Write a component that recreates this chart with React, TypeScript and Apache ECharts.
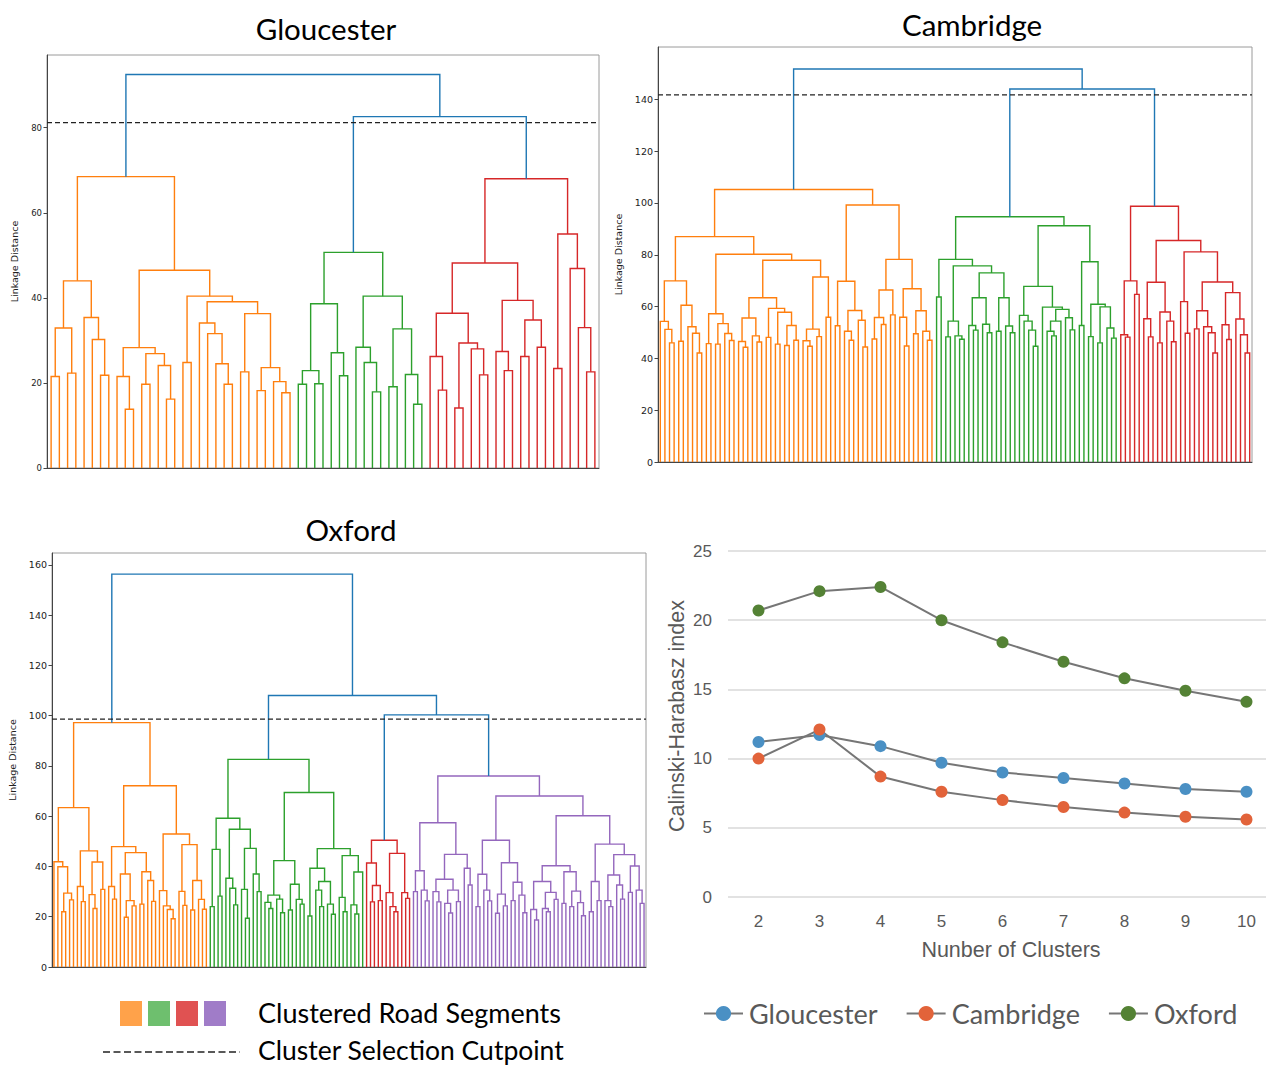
import React, { useEffect, useRef } from "react";
import * as echarts from "echarts";

type T = number | [number, T, T];

// ---------- Dendrogram data: [mergeHeight, left, right], 0 = leaf ----------
const gloucesterTree: T = [92.5,
  [68.5,
    [44.0, [32.9, [21.5, 0, 0], [22.3, 0, 0]], [35.4, 0, [30.2, 0, [21.8, 0, 0]]]],
    [46.5,
      [28.3, [21.5, 0, [13.8, 0, 0]], [26.9, [19.7, 0, 0], [24.1, 0, [16.2, 0, 0]]]],
      [40.4, [24.8, 0, 0],
        [39.1, [34.1, 0, [31.6, 0, [24.5, 0, [19.7, 0, 0]]]],
          [36.3, [22.6, 0, 0], [23.6, [18.2, 0, 0], [20.3, 0, [17.7, 0, 0]]]]]]]],
  [82.6,
    [50.7,
      [38.6, [22.9, [19.7, 0, 0], [19.8, 0, 0]], [27.1, 0, [21.7, 0, 0]]],
      [40.4, [28.4, 0, [24.8, 0, [17.9, 0, 0]]], [32.7, [19.1, 0, 0], [22.0, 0, [15.0, 0, 0]]]]],
    [68.0,
      [48.2,
        [36.4, [26.2, 0, [18.3, 0, 0]], [29.4, [14.1, 0, 0], [28.0, 0, [21.9, 0, 0]]]],
        [39.4, [27.4, 0, [22.9, 0, 0]], [34.8, [26.2, 0, 0], [28.4, 0, 0]]]],
      [55.0, [23.4, 0, 0], [46.9, 0, [33.0, 0, [22.6, 0, 0]]]]]]];
const gloucesterCut = 81.2;
const gloucesterTicks = [0, 20, 40, 60, 80];

const cambridgeTree: T = [151.7,
  [105.2,
    [87.0,
      [69.9, [54.3, 0, [51.2, 0, [46, 0, 0]]], [60.5, [46.6, 0, 0], [52.2, 0, [49.7, 0, [42.1, 0, 0]]]]],
      [80.2,
        [57.2, [45.7, 0, 0], [53.4, [45.5, 0, 0], [49.6, 0, [46.9, 0, 0]]]],
        [77.9,
          [63.4, [55.6, [46.5, 0, [44.3, 0, 0]], [48.7, 0, [46.3, 0, 0]]],
            [59.3, [48.1, 0, 0], [57.8, [45.5, 0, 0], [52.7, [45, 0, 0], [47, 0, 0]]]]],
          [71.4, [51.3, [46.8, 0, [44.7, 0, 0]], [48.4, 0, 0]], [55.9, 0, 0]]]]],
    [99.2,
      [69.8, [52.6, 0, 0], [58.5, [50.5, 0, [47, 0, 0]], [54.7, 0, [44.4, 0, 0]]]],
      [78.2, [66.4, [55.8, [47.5, 0, 0], [53.1, 0, 0]], [56.8, 0, 0]],
        [66.9, [55.9, 0, [44.8, 0, 0]], [58.4, [49.5, 0, 0], [50.5, 0, [47, 0, 0]]]]]]],
  [144.0,
    [94.7,
      [78.2, [63.7, 0, 0],
        [75.7, [54.4, [48.3, 0, 0], [48.7, 0, [47.4, 0, 0]]],
          [73, [63.4, [52.7, 0, [50.9, 0, 0]], [53.2, 0, [49.9, 0, 0]]],
            [63.4, [50.5, 0, 0], [52.5, 0, [49.9, 0, 0]]]]]],
      [91.2,
        [67.8, [56.6, 0, [54.4, 0, [50.9, 0, [44.7, 0, 0]]]],
          [59.8, 0, [58.9, [54.4, [50.5, 0, [48.7, 0, 0]], 0], [55.7, 0, [51, 0, 0]]]]],
        [77.3, [52.7, 0, 0], [60.9, [48.4, 0, 0], [59.9, [46, 0, 0], [51.7, 0, [47.8, 0, 0]]]]]]],
    [98.7,
      [69.9, [49.1, 0, [48.2, 0, 0]], [64.7, 0, 0]],
      [85.5,
        [69.4, [55.3, 0, [48.3, 0, 0]], [57.9, [46, 0, 0], [54.4, 0, [46.4, 0, 0]]]],
        [81.1, [61.9, 0, [49.7, 0, 0]],
          [69.5, [58.4, [51.4, 0, 0], [52.2, 0, [49.9, 0, [42.1, 0, 0]]]],
            [65.4, [53, 0, [47.3, 0, 0]], [55.2, 0, [49.1, 0, [42.1, 0, 0]]]]]]]]]];
const cambridgeCut = 141.7;
const cambridgeTicks = [0, 20, 40, 60, 80, 100, 120, 140];

const oxfordTree: T = [156.3,
  [97.2,
    [63.4, [41.9, 0, [39.9, 0, [29.4, [22, 0, 0], [26.7, 0, 0]]]],
      [46.2, [32, 0, [26, 0, 0]], [41.8, [28.8, 0, [23.3, 0, 0]], [30.9, 0, 0]]]],
    [72.1,
      [47.9, [32, 0, [27, 0, 0]],
        [45.5, [37, 0, [26.4, [19.8, 0, 0], [24.3, 0, 0]]], [37.9, [25, 0, 0], [34.4, 0, [26.1, 0, 0]]]]],
      [52.9, [30.4, 0, [24.3, 0, [22.9, 0, [19.2, 0, 0]]]],
        [48.7, [30.1, 0, [24.5, 0, 0]], [34.4, [22.7, 0, 0], [26.9, 0, [23, 0, 0]]]]]]],
  [108,
    [82.6,
      [59.2, [46.8, [24, 0, 0], [28.2, 0, 0]],
        [54.8, [35.3, 0, [31.3, 0, [24.7, 0, 0]]], [47.2, [30.9, 0, [19.4, 0, 0]], [37, 0, [30, 0, 0]]]]],
      [69.4,
        [42.3, [28.6, [25.7, 0, [23.3, 0, 0]], [27, 0, [21.6, 0, 0]]], [32.9, [22.7, 0, 0], [26.9, 0, [25, 0, 0]]]],
        [47.1, [39.3, [20.3, 0, 0], [34, [30.6, 0, [24, 0, 0]], [25, 0, [21, 0, 0]]]],
          [44.3, [27.7, 0, [22, 0, 0]], [37.8, [24.7, 0, [21.1, 0, 0]], 0]]]]],
    [100.3,
      [50.4, [41.4, 0, [32.4, [25.9, 0, 0], [26.4, 0, 0]]],
        [45.2, [29.6, 0, [24, 0, [22, 0, 0]]], [29.6, 0, [27.3, 0, 0]]]],
      [76.0,
        [57.4, [38.3, [30, 0, 0], [30.6, 0, [26.3, 0, 0]]],
          [44.8, [34.9, [30, 0, [25.9, 0, 0]], [30.6, [25.3, 0, [21.5, 0, 0]], [26, 0, 0]]], [39.3, 0, [32.6, 0, 0]]]],
        [68,
          [50.4, [36.9, [24, 0, 0], [30.6, 0, [26.3, 0, 0]]],
            [41.5, [29, [21.4, 0, 0], [24.3, 0, 0]], [33.7, [26.4, 0, 0], [28.6, 0, [21.6, 0, 0]]]]],
          [60.2,
            [40.3, [34, [22.9, 0, [18.7, 0, 0]], [29.7, [23.3, 0, [22, 0, 0]], [26.9, 0, 0]]],
              [37.9, [25.3, 0, 0], [30.2, [24, 0, 0], [25.6, 0, [20.4, 0, 0]]]]],
            [48.9, [34, [22, 0, 0], [26.4, 0, 0]],
              [44.7, [36.6, [26.4, 0, [24, 0, 0]], [32.6, 0, [27, 0, 0]]],
                [40.2, [29.7, 0, 0], [30.6, 0, [25.3, 0, 0]]]]]]]]]]];
const oxfordCut = 98.6;
const oxfordTicks = [0, 20, 40, 60, 80, 100, 120, 140, 160];

// ---------- Calinski-Harabasz line chart data ----------
const clusterCounts = [2, 3, 4, 5, 6, 7, 8, 9, 10];
const gloucesterCH = [11.2, 11.7, 10.9, 9.7, 9.0, 8.6, 8.2, 7.8, 7.6];
const cambridgeCH = [10.0, 12.1, 8.7, 7.6, 7.0, 6.5, 6.1, 5.8, 5.6];
const oxfordCH = [20.7, 22.1, 22.4, 20.0, 18.4, 17.0, 15.8, 14.9, 14.1];
const chTicks = [0, 5, 10, 15, 20, 25];

const CLUSTER_COLORS = ["#ff7f0e", "#2ca02c", "#d62728", "#9467bd"];
const ABOVE_COLOR = "#1f77b4";
const LEGEND_SWATCHES = ["#ffa24a", "#6ebf6e", "#e05252", "#a07cc8"];

function layoutTree(root: T, cut: number) {
  const links: number[][] = [];
  let leaf = 0;
  let cluster = -1;
  const walk = (node: T, color: number): [number, number] => {
    if (typeof node === "number") {
      const x = leaf + 0.5;
      leaf++;
      return [x, node];
    }
    const [h, l, r] = node;
    let c = color;
    if (c < 0 && h < cut) {
      cluster++;
      c = cluster;
    }
    const a = walk(l, c);
    const b = walk(r, c);
    links.push([a[0], a[1], b[0], b[1], h, c]);
    return [(a[0] + b[0]) / 2, h];
  };
  walk(root, -1);
  return { links, n: leaf };
}

const DENDROS = [
  { name: "Gloucester", tree: gloucesterTree, cut: gloucesterCut, ticks: gloucesterTicks, yMax: 97.1,
    grid: { left: 47, top: 55, width: 552, height: 413 }, title: [326, 28], labelSize: 8.5, nameGap: 28 },
  { name: "Cambridge", tree: cambridgeTree, cut: cambridgeCut, ticks: cambridgeTicks, yMax: 160.2,
    grid: { left: 658, top: 47, width: 594, height: 415 }, title: [972, 24], labelSize: 9.5, nameGap: 35 },
  { name: "Oxford", tree: oxfordTree, cut: oxfordCut, ticks: oxfordTicks, yMax: 164.7,
    grid: { left: 52, top: 553, width: 594, height: 414 }, title: [351, 529], labelSize: 9.5, nameGap: 35 },
];

function buildOption() {
  const grids: any[] = [];
  const xAxes: any[] = [];
  const yAxes: any[] = [];
  const series: any[] = [];
  const graphics: any[] = [];

  DENDROS.forEach((d, i) => {
    const { links, n } = layoutTree(d.tree, d.cut);
    grids.push({ ...d.grid, show: true, borderColor: "#9a9a9a", borderWidth: 1, containLabel: false });
    xAxes.push({
      gridIndex: i, type: "value", min: 0, max: n,
      axisLine: { show: true, onZero: false, lineStyle: { color: "#444", width: 1 } },
      axisTick: { show: false }, axisLabel: { show: false }, splitLine: { show: false },
    });
    yAxes.push({
      gridIndex: i, type: "value", min: 0, max: d.yMax,
      name: "Linkage Distance", nameLocation: "middle", nameGap: d.nameGap,
      nameTextStyle: { fontFamily: "DejaVu Sans", fontSize: 9.5, color: "#222" },
      axisLine: { show: true, onZero: false, lineStyle: { color: "#444", width: 1 } },
      axisTick: { show: true, length: 3.5, lineStyle: { color: "#444" }, customValues: d.ticks },
      axisLabel: { fontFamily: "DejaVu Sans", fontSize: d.labelSize, color: "#222", margin: 5, customValues: d.ticks },
      splitLine: { show: false },
    });
    series.push({
      type: "custom", name: "tree-" + d.name, xAxisIndex: i, yAxisIndex: i, silent: true, clip: true,
      data: links, encode: { x: [0, 2], y: [1, 3, 4] },
      renderItem: (_p: any, api: any) => {
        const x1 = api.value(0), y1 = api.value(1), x2 = api.value(2), y2 = api.value(3);
        const h = api.value(4), c = api.value(5);
        const pts = [api.coord([x1, y1]), api.coord([x1, h]), api.coord([x2, h]), api.coord([x2, y2])];
        return {
          type: "polyline", shape: { points: pts }, silent: true,
          style: { stroke: c < 0 ? ABOVE_COLOR : CLUSTER_COLORS[c], fill: null, lineWidth: 1.4 },
        };
      },
    });
    series.push({
      type: "line", name: "cut-" + d.name, xAxisIndex: i, yAxisIndex: i, silent: true, z: 5,
      data: [[0, d.cut], [n, d.cut]], showSymbol: false, symbol: "none",
      lineStyle: { color: "#222", width: 1.2, type: [5, 3] },
    });
    graphics.push({
      type: "text", x: d.title[0], y: d.title[1],
      style: { text: d.name, fontFamily: "Lato", fontSize: 29.5, fill: "#000", align: "center", verticalAlign: "middle" },
    });
  });

  // Line chart (value x-axis: 61 px per cluster count, 2 at x=758)
  const li = 3;
  grids.push({ left: 728, top: 551, width: 538, height: 346, show: false });
  xAxes.push({
    gridIndex: li, type: "value", min: 1.5, max: 10.32,
    name: "Nunber of Clusters", nameLocation: "middle", nameGap: 42,
    nameTextStyle: { fontFamily: "Liberation Sans", fontSize: 21.5, color: "#595959", padding: [0, 0, 0, 28] },
    axisLine: { show: false }, axisTick: { show: false },
    axisLabel: { fontFamily: "Liberation Sans", fontSize: 17, color: "#595959", margin: 16, customValues: clusterCounts },
    splitLine: { show: false },
  });
  yAxes.push({
    gridIndex: li, type: "value", min: 0, max: 25, interval: 5,
    name: "Calinski-Harabasz index", nameLocation: "middle", nameGap: 40,
    nameTextStyle: { fontFamily: "Liberation Sans", fontSize: 21.5, color: "#595959", padding: [0, 0, 0, 16] },
    axisLine: { show: false }, axisTick: { show: false },
    axisLabel: { fontFamily: "Liberation Sans", fontSize: 17, color: "#595959", margin: 16, customValues: chTicks },
    splitLine: { show: true, lineStyle: { color: "#d9d9d9", width: 1.5 } },
  });
  const lineSeries = [
    { name: "Gloucester", data: gloucesterCH, color: "#4a90c4" },
    { name: "Cambridge", data: cambridgeCH, color: "#e2633a" },
    { name: "Oxford", data: oxfordCH, color: "#548235" },
  ];
  lineSeries.forEach((s) => {
    series.push({
      type: "line", name: s.name, xAxisIndex: li, yAxisIndex: li,
      data: s.data.map((v, k) => [clusterCounts[k], v]),
      symbol: "circle", symbolSize: 12, showSymbol: true,
      lineStyle: { color: "#767676", width: 2 },
      itemStyle: { color: s.color, borderWidth: 0 },
      z: 3,
    });
  });

  // Left legend (dendrogram colours)
  LEGEND_SWATCHES.forEach((c, k) => {
    graphics.push({ type: "rect", shape: { x: 120 + k * 28, y: 1001, width: 22, height: 25 }, style: { fill: c } });
  });
  graphics.push({
    type: "text", x: 258, y: 1012,
    style: { text: "Clustered Road Segments", fontFamily: "Lato", fontSize: 27, fill: "#000", align: "left", verticalAlign: "middle" },
  });
  graphics.push({
    type: "line", shape: { x1: 103, y1: 1052, x2: 240, y2: 1052 },
    style: { stroke: "#222", lineWidth: 1.5, lineDash: [7, 3.5] },
  });
  graphics.push({
    type: "text", x: 258, y: 1050,
    style: { text: "Cluster Selection Cutpoint", fontFamily: "Lato", fontSize: 26.5, fill: "#000", align: "left", verticalAlign: "middle" },
  });

  return {
    animation: false,
    backgroundColor: "#ffffff",
    grid: grids,
    xAxis: xAxes,
    yAxis: yAxes,
    series,
    graphic: graphics,
    legend: {
      data: lineSeries.map((s) => s.name),
      left: 698, top: 995, orient: "horizontal",
      itemWidth: 39, itemHeight: 19, itemGap: 28,
      selectedMode: false,
      textStyle: { fontFamily: "Lato", fontSize: 27, color: "#595959", padding: [0, 0, 0, 1] },
    },
  };
}

export default function App() {
  const ref = useRef<HTMLDivElement>(null);
  useEffect(() => {
    if (!ref.current) return;
    const chart = echarts.init(ref.current, undefined, { renderer: "svg" });
    chart.setOption(buildOption() as any);
    return () => chart.dispose();
  }, []);
  return (
    <div
      ref={ref}
      style={{ position: "absolute", left: 0, top: 0, width: 1266, height: 1065, background: "#fff" }}
    />
  );
}
